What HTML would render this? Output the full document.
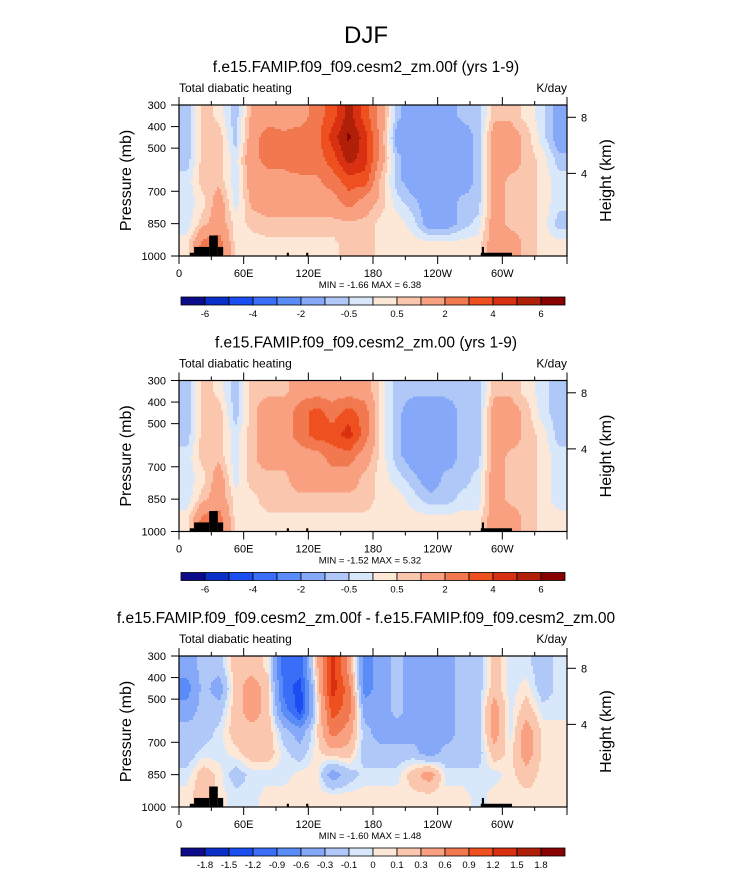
<!DOCTYPE html>
<html><head><meta charset="utf-8"><style>
html,body{margin:0;padding:0;background:#fff;}
svg{display:block;font-family:"Liberation Sans",Arial,sans-serif;}
</style></head><body>
<svg id="fig" width="733" height="872" viewBox="0 0 733 872" xmlns="http://www.w3.org/2000/svg">
<text x="366" y="43" font-size="24" text-anchor="middle">DJF</text>
</svg>
<script>
// ---- data ----
const lonCenters = [7.5,22.5,37.5,52.5,67.5,82.5,97.5,112.5,127.5,142.5,157.5,172.5,187.5,202.5,217.5,232.5,247.5,262.5,277.5,292.5,307.5,322.5,337.5,352.5];
const presCenters = [350,450,550,650,750,850,950];
const levels1 = [-6,-5,-4,-3,-2,-1,-0.5,0,0.5,1,2,3,4,5,6];
const levels3 = [-1.8,-1.5,-1.2,-0.9,-0.6,-0.3,-0.1,0,0.1,0.3,0.6,0.9,1.2,1.5,1.8];
const cbLabels1 = ["","-6","","-4","","-2","","-0.5","","0.5","","2","","4","","6"];
const cbLabels3 = ["","-1.8","-1.5","-1.2","-0.9","-0.6","-0.3","-0.1","0","0.1","0.3","0.6","0.9","1.2","1.5","1.8"];
const palette = ["#0c0c8a","#0a2ec8","#1a4ef0","#3a6ef8","#5a8cf8","#85a8f8","#b0c8f8","#d8e8fa","#fde8d8","#fbc6ae","#f8a080","#f27850","#ef5020","#d83010","#b02008","#880000"];
const field1 = [
[-0.8,0.8,0.3,-0.8,1.2,1.5,1.5,1.5,2.5,3.5,5.5,3.5,1.5,-0.8,-1.5,-1.5,-1.5,-0.8,-0.8,0.8,0.8,0.3,-0.3,-1.5],
[-0.8,0.8,0.8,-0.8,1.5,2.5,2.2,2.5,2.5,4.5,6.2,4.5,1.5,-1.5,-1.5,-1.5,-1.5,-1.5,-0.8,1.5,1.5,0.8,-0.3,-1.5],
[-0.8,0.8,0.8,-0.3,1.8,2.2,2.2,2.5,2.5,3.5,5.5,4.5,1.5,-0.8,-1.5,-1.5,-1.5,-1.5,-0.8,1.5,1.5,0.8,0.3,-0.8],
[-0.3,0.8,0.8,-0.3,1.5,1.8,1.8,1.8,1.8,2.5,3.5,3.5,0.8,-0.8,-1.5,-1.5,-1.5,-1.5,-0.8,1.5,0.8,0.8,0.3,-0.3],
[-0.3,0.3,1.5,-0.3,1.2,1.5,1.5,1.5,1.5,1.5,2.5,1.5,0.8,-0.3,-0.8,-1.5,-1.5,-0.8,-0.8,1.5,0.8,0.8,0.3,-0.3],
[-0.3,0.8,1.5,0.3,0.6,0.8,0.8,0.8,0.8,0.8,0.8,0.8,0.3,0.3,-0.3,-1.5,-1.5,-0.8,-0.3,1.5,0.8,0.8,0.3,-0.8],
[0.3,2.5,2.5,0.3,0.3,0.3,0.3,0.3,0.3,0.3,0.8,0.8,0.3,0.3,0.3,0.3,0.3,0.3,0.3,1.5,1.5,0.8,0.3,0.3]];
const field2 = [
[-0.8,0.8,0.3,-0.8,0.8,0.8,0.8,1.5,1.5,1.5,1.5,1.5,0.3,-0.8,-0.8,-0.8,-0.8,-0.8,-0.8,0.8,0.8,0.3,-0.3,-0.8],
[-0.8,0.8,0.8,-0.8,0.8,1.5,1.5,2.5,3.5,2.5,3.5,2.5,0.3,-0.8,-1.5,-1.5,-1.5,-0.8,-0.8,1.5,1.5,0.8,-0.3,-0.8],
[-0.8,0.8,0.8,-0.3,0.8,1.5,1.5,2.5,3.5,3.5,4.5,2.5,0.3,-0.8,-1.5,-1.5,-1.5,-0.8,-0.8,1.5,1.5,0.8,0.3,-0.8],
[-0.3,0.8,0.8,-0.3,0.8,1.5,1.5,1.5,1.5,2.5,2.5,1.5,0.3,-0.8,-1.5,-1.5,-1.5,-0.8,-0.8,1.5,0.8,0.8,0.3,-0.3],
[-0.3,0.3,1.5,-0.3,0.8,0.8,0.8,1.5,1.5,1.5,1.5,0.8,0.3,-0.3,-0.8,-1.5,-0.8,-0.8,-0.3,1.5,0.8,0.8,0.3,-0.3],
[-0.3,0.8,1.5,0.3,0.3,0.8,0.8,0.8,0.8,0.8,0.8,0.8,0.3,0.3,-0.3,-0.8,-0.8,-0.3,-0.3,1.5,0.8,0.8,0.3,-0.3],
[0.3,2.5,2.5,0.3,0.3,0.3,0.3,0.3,0.3,0.3,0.3,0.3,0.3,0.3,0.3,0.3,0.3,0.3,0.3,1.5,1.5,0.8,0.3,0.3]];
const field3 = [
[-0.45,-0.2,-0.2,0.2,0.2,0.05,-1.05,-1.05,0.2,1.35,0.45,-0.75,-0.45,-0.2,-0.45,-0.45,-0.45,-0.2,-0.2,0.2,-0.05,-0.05,-0.2,-0.05],
[-0.75,-0.2,-0.45,0.2,0.45,0.2,-1.05,-1.35,0.05,1.35,0.75,-0.75,-0.45,-0.2,-0.45,-0.45,-0.45,-0.2,-0.2,0.2,-0.05,0.05,-0.2,-0.05],
[-0.45,-0.2,-0.2,0.2,0.45,0.2,-0.75,-1.35,-0.05,1.05,0.75,-0.45,-0.45,-0.2,-0.45,-0.45,-0.45,-0.2,-0.2,0.45,-0.05,0.2,-0.05,-0.05],
[-0.2,-0.2,-0.05,0.2,0.2,0.2,-0.2,-0.45,0.05,0.75,0.45,-0.2,-0.45,-0.45,-0.45,-0.45,-0.45,-0.2,-0.2,0.45,-0.05,0.45,0.05,0.05],
[-0.2,-0.05,-0.05,0.05,0.2,0.2,-0.05,-0.2,0.05,0.2,0.2,-0.2,-0.2,-0.2,-0.2,-0.45,-0.2,-0.2,-0.2,0.2,0.05,0.45,0.05,0.05],
[-0.05,0.2,0.05,-0.2,-0.05,-0.05,-0.05,0.05,0.05,-0.45,-0.2,-0.05,-0.05,-0.05,0.2,0.45,-0.05,-0.05,-0.05,-0.05,0.05,0.2,0.05,0.05],
[0.05,0.2,0.05,-0.05,-0.05,0.05,0.05,0.05,0.05,0.05,0.05,0.05,0.05,0.05,0.05,0.05,0.05,0.05,-0.05,0.05,0.05,0.05,0.05,0.05]];
const terrainLon0 = [10,14,28,36,100,118,280,281];
const terrainLon1 = [14,28,36,41,102,120,309,283];
const terrainTop  = [985,958,905,958,985,985,985,958];
const xTickLon = [0,60,120,180,240,300];
const xTickLabels = ["0","60E","120E","180","120W","60W"];
const pTicks = [300,400,500,700,850,1000];
const hTickKm = [8,4];
const hTickP = [357,617];
const titles = ["f.e15.FAMIP.f09_f09.cesm2_zm.00f (yrs 1-9)","f.e15.FAMIP.f09_f09.cesm2_zm.00 (yrs 1-9)","f.e15.FAMIP.f09_f09.cesm2_zm.00f - f.e15.FAMIP.f09_f09.cesm2_zm.00"];
const minMax = ["MIN =  -1.66  MAX =   6.38","MIN =  -1.52  MAX =   5.32","MIN =  -1.60  MAX =   1.48"];

// ---- drawing ----
const NS="http://www.w3.org/2000/svg";
const svg=document.getElementById('fig');
const X0=179,X1=567,PH=151;
function mk(tag,attrs,parent,text){const e=document.createElementNS(NS,tag);for(const k in attrs)e.setAttribute(k,attrs[k]);if(text!==undefined)e.textContent=text;(parent||svg).appendChild(e);return e;}
function xs(lon){return X0+lon*(X1-X0)/360;}
function colorFor(v,levels){let k=0;while(k<levels.length&&v>=levels[k])k++;return palette[k];}
function fracIdx(arr,v){if(v<=arr[0])return 0;const n=arr.length-1;if(v>=arr[n])return n;let i=0;while(arr[i+1]<v)i++;return i+(v-arr[i])/(arr[i+1]-arr[i]);}
function sample(F,lon,p){
  const fc=fracIdx(lonCenters,lon), fr=fracIdx(presCenters,p);
  const c0=Math.floor(fc),r0=Math.floor(fr);
  const c1=Math.min(c0+1,lonCenters.length-1),r1=Math.min(r0+1,presCenters.length-1);
  const a=fc-c0,b=fr-r0;
  return (1-a)*(1-b)*F[r0][c0]+a*(1-b)*F[r0][c1]+(1-a)*b*F[r1][c0]+a*b*F[r1][c1];
}
const panelTops=[105,380.5,656];
const fields=[field1,field2,field3];
const levelSets=[levels1,levels1,levels3];
const cbLabelSets=[cbLabels1,cbLabels1,cbLabels3];
const DX=2, DY=2;
panelTops.forEach((T,pi)=>{
  const ys=p=>T+(p-300)*PH/700;
  const g=mk('g',{},svg);
  
  
  const t=mk('text',{x:366,y:T-33,'font-size':15.5,'text-anchor':'middle'},g,titles[pi]);
  
  
  const l=mk('text',{x:X0,y:T-13,'font-size':12},g,'Total diabatic heating');
  
  
  const u=mk('text',{x:X1,y:T-13,'font-size':12,'text-anchor':'end'},g,'K/day');
  
  
  const F=fields[pi];
  const cg=mk('g',{'shape-rendering':'crispEdges'},g);
  
  
  function flush(x0,x1,py,col){
    const rc=mk('rect',{x:x0,y:py,width:x1-x0,height:Math.min(DY,T+PH-py)+0.5,fill:col},cg);
    
    
  }
  for(let py=T;py<T+PH;py+=DY){
    const p=300+(py+DY/2-T)*700/PH;
    let runStart=X0, runCol=null;
    for(let px=X0;px<X1;px+=DX){
      const lon=Math.min(360,(px+DX/2-X0)*360/(X1-X0));
      const col=colorFor(sample(F,lon,p),levelSets[pi]);
      if(col!==runCol){
        if(runCol!==null) flush(runStart,px,py,runCol);
        runStart=px;runCol=col;
      }
    }
    flush(runStart,X1,py,runCol);
  }
  for(let i=0;i<terrainTop.length;i++){
    const tr=mk('rect',{x:xs(terrainLon0[i]),y:ys(terrainTop[i]),width:xs(terrainLon1[i])-xs(terrainLon0[i]),height:ys(1000)-ys(terrainTop[i]),fill:'#000'},g);
    
    
  }
  const fr=mk('rect',{x:X0,y:T,width:X1-X0,height:PH,fill:'none',stroke:'#000','stroke-width':1.2},g);
  
  
  for(let lon=0;lon<=360;lon+=30){
    const major=lon%60===0, len=major?8:4;
    mk('line',{x1:xs(lon),x2:xs(lon),y1:T,y2:T-len,stroke:'#000'},g);
    mk('line',{x1:xs(lon),x2:xs(lon),y1:T+PH,y2:T+PH+len,stroke:'#000'},g);
  }
  xTickLon.forEach((lon,i)=>{
    const tl=mk('text',{x:xs(lon),y:T+PH+21,'font-size':11,'text-anchor':'middle'},g,xTickLabels[i]);
    
    
  });
  pTicks.forEach(p=>{
    mk('line',{x1:X0,x2:X0-8,y1:ys(p),y2:ys(p),stroke:'#000'},g);
    const pl=mk('text',{x:X0-13,y:ys(p)+4,'font-size':11,'text-anchor':'end'},g,String(p));
    
    
  });
  hTickKm.forEach((h,i)=>{
    const y=ys(hTickP[i]);
    mk('line',{x1:X1,x2:X1+9,y1:y,y2:y,stroke:'#000'},g);
    const hl=mk('text',{x:X1+14,y:y+4,'font-size':11},g,String(h));
    
    
  });
  const yt=mk('text',{x:0,y:0,'font-size':16,'text-anchor':'middle',transform:`translate(131,${T+PH/2}) rotate(-90)`},g,'Pressure (mb)');
  
  
  const ht=mk('text',{x:0,y:0,'font-size':16,'text-anchor':'middle',transform:`translate(611,${T+PH/2}) rotate(-90)`},g,'Height (km)');
  
  
  const mm=mk('text',{x:370,y:T+PH+32,'font-size':9.5,'text-anchor':'middle'},g,minMax[pi]);
  
  
  const cy=T+PH+41, bw=24;
  const cb=mk('g',{},g);
  
  
  palette.forEach((c,k)=>{
    const b=mk('rect',{x:181+k*bw,y:cy,width:bw,height:8,fill:c,stroke:'#000','stroke-width':0.8},cb);
    
    
    const lab=cbLabelSets[pi][k];
    if(lab){
      const bl=mk('text',{x:181+k*bw,y:cy+20,'font-size':9.5,'text-anchor':'middle'},cb,lab);
      
      
    }
  });
});
</script>
</body></html>
